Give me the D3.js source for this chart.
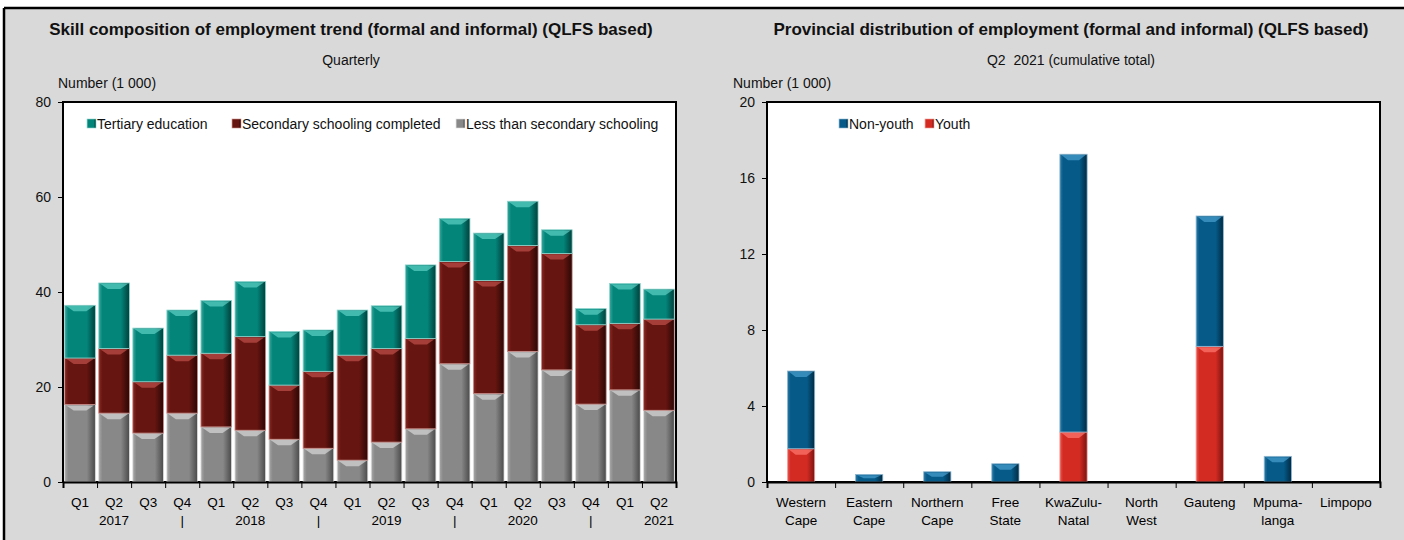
<!DOCTYPE html>
<html>
<head>
<meta charset="utf-8">
<script src="https://cdn.jsdelivr.net/npm/d3@7"></script>
<style>
  html, body { margin: 0; padding: 0; background: #ffffff; }
  svg { display: block; }
  text { font-family: "Liberation Sans", Arial, sans-serif; fill: #111; }
</style>
</head>
<body>
<svg id="chart" width="1404" height="540"></svg>
<script>
// ---------------- DATA ----------------
const quarters = ["Q1","Q2","Q3","Q4","Q1","Q2","Q3","Q4","Q1","Q2","Q3","Q4","Q1","Q2","Q3","Q4","Q1","Q2"];
const yearLabels = ["","2017","","|","","2018","","|","","2019","","|","","2020","","|","","2021"];
const lessThanSecondary = [16.3,14.5,10.3,14.5,11.6,10.9,9.0,7.1,4.6,8.4,11.2,24.9,18.6,27.5,23.6,16.4,19.4,15.1];
const secondaryCompleted = [9.8,13.6,10.8,12.2,15.5,19.7,11.4,16.2,22.1,19.7,19.0,21.5,23.8,22.3,24.5,16.7,14.0,19.2];
const tertiaryEducation = [11.1,13.8,11.3,9.5,11.1,11.6,11.3,8.7,9.5,9.0,15.5,9.1,10.0,9.3,5.0,3.4,8.4,6.3];
const leftTicks = [0,20,40,60,80];

const provinces = ["Western Cape","Eastern Cape","Northern Cape","Free State","KwaZulu-Natal","North West","Gauteng","Mpumalanga","Limpopo"];
const provinceLabelLines = [["Western","Cape"],["Eastern","Cape"],["Northern","Cape"],["Free","State"],["KwaZulu-","Natal"],["North","West"],["Gauteng",""],["Mpuma-","langa"],["Limpopo",""]];
const youth = [1.75,0,0,0,2.63,0,7.14,0,0];
const nonYouth = [4.09,0.40,0.54,0.96,14.62,0,6.86,1.35,0];
const rightTicks = [0,4,8,12,16,20];

// ---------------- SETUP ----------------
const svg = d3.select("#chart");
const BG = "#d9d9d9";
svg.append("rect").attr("x",4).attr("y",8).attr("width",1404).attr("height",540).attr("fill",BG);
svg.append("line").attr("x1",4).attr("x2",1404).attr("y1",8).attr("y2",8).attr("stroke","#000").attr("stroke-width",2.5);
svg.append("line").attr("x1",4).attr("x2",4).attr("y1",8).attr("y2",540).attr("stroke","#000").attr("stroke-width",2.5);

const defs = svg.append("defs");
function makeGrad(id, light, base, dark) {
  const g = defs.append("linearGradient").attr("id", id).attr("x1","0%").attr("x2","100%").attr("y1","0%").attr("y2","0%");
  g.append("stop").attr("offset","0%").attr("stop-color", light);
  g.append("stop").attr("offset","12%").attr("stop-color", base);
  g.append("stop").attr("offset","72%").attr("stop-color", base);
  g.append("stop").attr("offset","100%").attr("stop-color", dark);
}
const colors = {
  tertiary: {light:"#3aa89d", base:"#03857a", dark:"#01403b", hi:"#5fd0c5", edge:"#8fd6cf"},
  secondary:{light:"#8a2a25", base:"#661510", dark:"#2a0705", hi:"#c0504a", edge:"#c98c88"},
  less:     {light:"#a8a8a8", base:"#888888", dark:"#4a4a4a", hi:"#d8d8d8", edge:"#dddddd"},
  nonyouth: {light:"#2f7aa6", base:"#055a88", dark:"#022a42", hi:"#4aa0d0", edge:"#8fb8d2"},
  youth:    {light:"#e85a52", base:"#d32a22", dark:"#7a1410", hi:"#ff7a70", edge:"#f0a09a"}
};
Object.entries(colors).forEach(([k,c]) => makeGrad("g_"+k, c.light, c.base, c.dark));

const FS = 13.5;
const LFS = 14;

function drawBars(g, x, y, series) {
  const n = series[0].values.length;
  const stacked = [];
  for (let i = 0; i < n; i++) {
    let acc = 0;
    series.forEach(s => {
      const v = s.values[i];
      if (v > 0) stacked.push({i, key: s.key, y0: acc, y1: acc + v});
      acc += v;
    });
  }
  const segs = g.selectAll("g.seg").data(stacked).join("g").attr("class","seg");
  segs.append("rect")
    .attr("x", d => x(d.i))
    .attr("width", x.bandwidth())
    .attr("y", d => y(d.y1))
    .attr("height", d => y(d.y0) - y(d.y1))
    .attr("fill", d => `url(#g_${d.key})`)
    .attr("stroke", d => colors[d.key].edge)
    .attr("stroke-width", 0.8);
  segs.append("path")
    .attr("d", d => {
      const x0 = x(d.i), w = x.bandwidth();
      const top = y(d.y1);
      const h = Math.min(6, (y(d.y0) - y(d.y1)) / 2);
      const inset = Math.min(w * 0.3, 9);
      return `M${x0+1.5},${top+0.8} L${x0+w-1.5},${top+0.8} L${x0+w-inset},${top+h} L${x0+inset},${top+h} Z`;
    })
    .attr("fill", d => colors[d.key].hi)
    .attr("opacity", 0.7);
}

function drawPanel(cfg) {
  const {x0, x1, yTop, yBot, maxY, ticks, n} = cfg;
  const y = d3.scaleLinear().domain([0, maxY]).range([yBot, yTop]);
  const x = d3.scaleBand().domain(d3.range(n)).range([x0, x1]).paddingInner(cfg.pad).paddingOuter(cfg.pad/2);
  const g = svg.append("g");
  g.append("rect").attr("x",x0).attr("y",yTop).attr("width",x1-x0).attr("height",yBot-yTop)
    .attr("fill","#fff").attr("stroke","#000").attr("stroke-width",2);
  drawBars(g.append("g"), x, y, cfg.series);
  const ya = g.append("g").attr("transform",`translate(${x0},0)`)
    .call(d3.axisLeft(y).tickValues(ticks).tickSize(5).tickPadding(7).tickFormat(d3.format("d")));
  ya.select(".domain").remove();
  ya.selectAll("line").attr("stroke","#000");
  ya.selectAll("text").style("font-size", LFS+"px").attr("fill","#111");
  const xl = d3.scaleLinear().domain([0,n]).range([x0,x1]);
  const xa = g.append("g").attr("transform",`translate(0,${yBot})`)
    .call(d3.axisBottom(xl).tickValues(d3.range(n+1)).tickSize(6).tickFormat(""));
  xa.select(".domain").attr("stroke","#000").attr("stroke-width",2);
  xa.selectAll("line").attr("stroke","#000");
  const lab = g.append("g");
  cfg.labels1.forEach((t,i) => lab.append("text").attr("x", x(i)+x.bandwidth()/2).attr("y", 507)
    .attr("text-anchor","middle").style("font-size",FS+"px").style("fill","#000").text(t));
  cfg.labels2.forEach((t,i) => { if (t) lab.append("text").attr("x", x(i)+x.bandwidth()/2).attr("y", 525)
    .attr("text-anchor","middle").style("font-size",FS+"px").style("fill","#000").text(t); });
  svg.append("text").attr("x", cfg.titleX).attr("y", 35).attr("text-anchor","middle")
    .style("font-size","17px").style("font-weight","bold").text(cfg.title);
  svg.append("text").attr("x", cfg.titleX).attr("y", 65).attr("text-anchor","middle")
    .style("font-size",LFS+"px").style("white-space","pre").attr("xml:space","preserve").text(cfg.subtitle);
  svg.append("text").attr("x", cfg.unitX).attr("y", 88).style("font-size",LFS+"px").text("Number (1 000)");
  cfg.legend.forEach(l => {
    svg.append("rect").attr("x", l.sx).attr("y", 119).attr("width", 9).attr("height", 9)
      .attr("fill", `url(#g_${l.key})`).attr("stroke", colors[l.key].edge).attr("stroke-width",0.6);
    svg.append("text").attr("x", l.sx + 10).attr("y", 129).style("font-size",LFS+"px").text(l.label);
  });
}

drawPanel({
  x0: 63, x1: 676, yTop: 102, yBot: 482, maxY: 80, ticks: leftTicks, n: quarters.length, pad: 0.1,
  series: [
    {key:"less", values: lessThanSecondary},
    {key:"secondary", values: secondaryCompleted},
    {key:"tertiary", values: tertiaryEducation}
  ],
  labels1: quarters, labels2: yearLabels,
  title: "Skill composition of employment trend (formal and informal) (QLFS based)",
  titleX: 351, subtitle: "Quarterly", unitX: 58,
  legend: [
    {key:"tertiary", label:"Tertiary education", sx: 87},
    {key:"secondary", label:"Secondary schooling completed", sx: 232},
    {key:"less", label:"Less than secondary schooling", sx: 456}
  ]
});

drawPanel({
  x0: 767, x1: 1380, yTop: 102, yBot: 482, maxY: 20, ticks: rightTicks, n: provinces.length, pad: 0.6,
  series: [
    {key:"youth", values: youth},
    {key:"nonyouth", values: nonYouth}
  ],
  labels1: provinceLabelLines.map(d => d[0]), labels2: provinceLabelLines.map(d => d[1]),
  title: "Provincial distribution of employment (formal and informal) (QLFS based)",
  titleX: 1071, subtitle: "Q2  2021 (cumulative total)", unitX: 733,
  legend: [
    {key:"nonyouth", label:"Non-youth", sx: 839},
    {key:"youth", label:"Youth", sx: 925}
  ]
});
</script>
</body>
</html>
